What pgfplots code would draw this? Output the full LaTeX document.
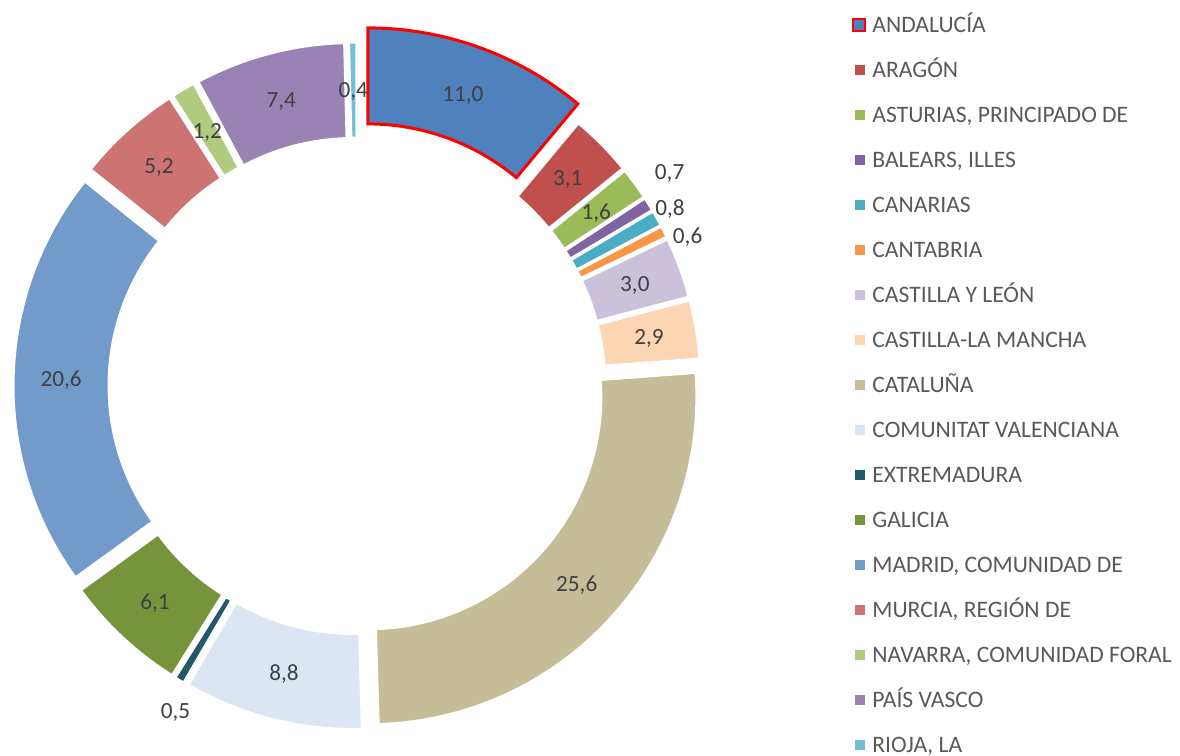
\documentclass[border=0pt]{standalone}
\usepackage{fontspec}
\setmainfont{Carlito}
\usepackage{pgfplots}
\usepackage{pgfplotstable}
\pgfplotsset{compat=1.18}

% slice colours, in table order
\definecolor{c0}{HTML}{4F81BD}
\definecolor{c1}{HTML}{C0504D}
\definecolor{c2}{HTML}{9BBB59}
\definecolor{c3}{HTML}{8064A2}
\definecolor{c4}{HTML}{4BACC6}
\definecolor{c5}{HTML}{F79646}
\definecolor{c6}{HTML}{CCC1DA}
\definecolor{c7}{HTML}{FCD5B5}
\definecolor{c8}{HTML}{C4BD97}
\definecolor{c9}{HTML}{DCE6F2}
\definecolor{c10}{HTML}{215968}
\definecolor{c11}{HTML}{77933C}
\definecolor{c12}{HTML}{729ACA}
\definecolor{c13}{HTML}{CD7371}
\definecolor{c14}{HTML}{B0CB7E}
\definecolor{c15}{HTML}{9983B5}
\definecolor{c16}{HTML}{72BFD4}
\definecolor{labgray}{HTML}{404040}
\definecolor{leggray}{HTML}{595959}

% value in %, ex = explosion (px), lr / la = label radius (px) and angle shift
\pgfplotstableread[col sep=semicolon]{
name;value;ex;lr;la
ANDALUCÍA;11.0;32;311;0
ARAGÓN;3.1;16;296;0
ASTURIAS, PRINCIPADO DE;1.6;16;296;0
BALEARS, ILLES;0.7;16;379;2.5
CANARIAS;0.8;16;360;0.4
CANTABRIA;0.6;16;363;-2.3
CASTILLA Y LEÓN;3.0;16;296;0
CASTILLA-LA MANCHA;2.9;16;296;0
CATALUÑA;25.6;16;296;0
COMUNITAT VALENCIANA;8.8;16;296;0
EXTREMADURA;0.5;16;372;1.9
GALICIA;6.1;16;296;0
MADRID, COMUNIDAD DE;20.6;16;296;0
MURCIA, REGIÓN DE;5.2;16;296;0
NAVARRA, COMUNIDAD FORAL;1.2;16;296;0
PAÍS VASCO;7.4;16;296;0
RIOJA, LA;0.4;16;296;0
}\regiones

\begin{document}
\begin{tikzpicture}
\def\cx{357}\def\cy{370}\def\Rout{328}\def\Rin{232}
\pgfplotstablegetrowsof{\regiones}
\pgfmathtruncatemacro\nrows{\pgfplotsretval-1}
\def\total{0}
\pgfplotsforeachungrouped \i in {0,...,\nrows}{%
  \pgfplotstablegetelem{\i}{value}\of\regiones
  \pgfmathsetmacro\total{\total+\pgfplotsretval}%
}
% angles and points of every slice
\def\cum{0}
\pgfplotsforeachungrouped \i in {0,...,\nrows}{%
  \pgfplotstablegetelem{\i}{value}\of\regiones \let\val\pgfplotsretval
  \pgfplotstablegetelem{\i}{ex}\of\regiones \let\ex\pgfplotsretval
  \pgfplotstablegetelem{\i}{lr}\of\regiones \let\lr\pgfplotsretval
  \pgfplotstablegetelem{\i}{la}\of\regiones \let\la\pgfplotsretval
  \pgfplotstablegetelem{\i}{name}\of\regiones
  \expandafter\let\csname nm\i\endcsname\pgfplotsretval
  \expandafter\let\csname v\i\endcsname\val
  \pgfmathsetmacro\angA{90-\cum/\total*360}%
  \pgfmathsetmacro\cum{\cum+\val}%
  \pgfmathsetmacro\angB{90-\cum/\total*360}%
  \pgfmathsetmacro\angM{(\angA+\angB)/2}%
  \pgfmathsetmacro\ox{\cx+\ex*cos(\angM)}%
  \pgfmathsetmacro\oy{\cy+\ex*sin(\angM)}%
  \expandafter\let\csname a\i\endcsname\angA
  \expandafter\let\csname b\i\endcsname\angB
  \pgfmathsetmacro\tmp{\ox+\Rout*cos(\angA)}\expandafter\let\csname sx\i\endcsname\tmp
  \pgfmathsetmacro\tmp{\oy+\Rout*sin(\angA)}\expandafter\let\csname sy\i\endcsname\tmp
  \pgfmathsetmacro\tmp{\ox+\Rin*cos(\angB)}\expandafter\let\csname ix\i\endcsname\tmp
  \pgfmathsetmacro\tmp{\oy+\Rin*sin(\angB)}\expandafter\let\csname iy\i\endcsname\tmp
  \pgfmathsetmacro\tmp{\cx+\lr*cos(\angM+\la)}\expandafter\let\csname lx\i\endcsname\tmp
  \pgfmathsetmacro\tmp{\cy+\lr*sin(\angM+\la)-7.5}\expandafter\let\csname ly\i\endcsname\tmp
}
\begin{axis}[
  name=ax,
  x=0.5pt, y=0.5pt,
  xmin=0, xmax=1180, ymin=0, ymax=756,
  scale only axis, hide axis, clip=false,
]
% slices, Andalucia last so its red border stays on top
\pgfplotsinvokeforeach{1,...,16}{
  \filldraw[fill=c#1, draw=white, line width=1.5pt]
    (axis cs:\csname sx#1\endcsname,\csname sy#1\endcsname)
    arc[start angle=\csname a#1\endcsname, end angle=\csname b#1\endcsname, radius=\Rout*0.5pt]
    -- (axis cs:\csname ix#1\endcsname,\csname iy#1\endcsname)
    arc[start angle=\csname b#1\endcsname, end angle=\csname a#1\endcsname, radius=\Rin*0.5pt]
    -- cycle;
}
\filldraw[fill=c0, draw=red, line width=1.5pt]
  (axis cs:\csname sx0\endcsname,\csname sy0\endcsname)
  arc[start angle=\csname a0\endcsname, end angle=\csname b0\endcsname, radius=\Rout*0.5pt]
  -- (axis cs:\csname ix0\endcsname,\csname iy0\endcsname)
  arc[start angle=\csname b0\endcsname, end angle=\csname a0\endcsname, radius=\Rin*0.5pt]
  -- cycle;
% data labels and legend
\pgfplotsinvokeforeach{0,...,16}{
  \node[anchor=base, inner sep=0pt, text=labgray, font=\fontsize{11.6}{14}\selectfont]
    at (axis cs:\csname lx#1\endcsname,\csname ly#1\endcsname)
    {\pgfmathprintnumber[fixed, fixed zerofill, precision=1, use comma, assume math mode=true]{\csname v#1\endcsname}};
  \node[fill=c#1, minimum size=5pt, inner sep=0pt] at (axis cs:860,{756-25-45*#1}) {};
  \node[anchor=base west, inner sep=0pt, text=leggray, font=\fontsize{11.8}{14}\selectfont]
    at (axis cs:872,{756-33-45*#1}) {\csname nm#1\endcsname};
}
\node[fill=c0, draw=red, line width=1pt, minimum size=6pt, inner sep=0pt] at (axis cs:859,731) {};
\end{axis}
\pgfresetboundingbox
\useasboundingbox (ax.south west) rectangle (ax.north east);
\end{tikzpicture}
\end{document}
